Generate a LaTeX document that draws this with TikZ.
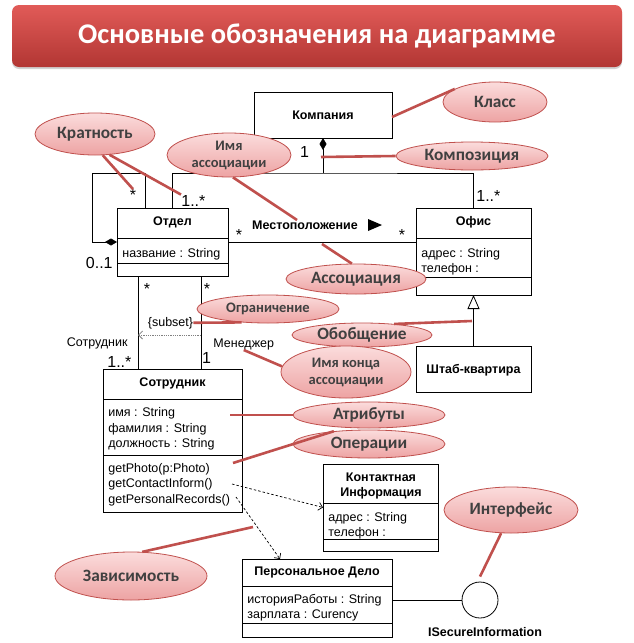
\documentclass[tikz,border=0pt]{standalone}
\usepackage{fontspec}
\setmainfont{Liberation Sans}
\newfontfamily\calib{Carlito}
\usetikzlibrary{arrows.meta,positioning,shapes.geometric,shadows}
\definecolor{calloutred}{HTML}{C0504D}
\definecolor{calloutlight}{HTML}{FBDCDC}
\definecolor{calloutdark}{HTML}{EDA3A3}
\definecolor{callouttext}{HTML}{404040}
\definecolor{bannertop}{HTML}{E15B58}
\definecolor{bannerbot}{HTML}{B23633}

\begin{document}
\begin{tikzpicture}[x=1pt, y=-1pt, line width=0.8pt,
	banner/.style={rounded corners=7pt, inner sep=0pt, top color=bannertop, bottom color=bannerbot, text=white, font=\calib\bfseries\fontsize{28.5}{34}\selectfont, drop shadow={shadow xshift=0pt, shadow yshift=-2pt, opacity=0.35}},
	classbox/.style={draw, inner sep=0pt, outer sep=0pt},
	cname/.style={font=\fontsize{12.5}{15}\selectfont\bfseries, anchor=base, inner sep=0pt},
	attr/.style={font=\fontsize{12.5}{15}\selectfont, anchor=base west, inner sep=0pt},
	mult/.style={font=\fontsize{16}{19}\selectfont, anchor=base, inner sep=0pt},
	callout/.style={ellipse, draw=calloutred, top color=calloutlight, bottom color=calloutdark, inner sep=0pt, align=center, text=callouttext, font=\calib\bfseries\fontsize{17.3}{20}\selectfont},
	calloutsmall/.style={font=\calib\bfseries\fontsize{14.5}{17}\selectfont},
	pointer/.style={draw=calloutred, line width=2.6pt},
	composition/.style={{Diamond[length=12pt,width=7pt]}-},
	dependency/.style={dash pattern=on 2.5pt off 2pt, line width=0.7pt, -{Straight Barb[length=4pt,width=8pt]}},
	constraint/.style={densely dotted, gray, -{Straight Barb[length=4pt,width=8pt]}}]
	\useasboundingbox (0,0) rectangle (634,643);
	\fill[white] (0,0) rectangle (634,643);

	\node[banner, minimum width=610pt, minimum height=62pt] (title) at (317,36) {Основные обозначения на диаграмме};

	\node[classbox, minimum width=138pt, minimum height=46pt] (kompaniya) at (323,115) {};
	\node[classbox, minimum width=111pt, minimum height=68pt] (otdel) at (172.5,242) {};
	\node[classbox, minimum width=115pt, minimum height=87pt] (ofis) at (473.5,251.5) {};
	\node[classbox, minimum width=115pt, minimum height=46pt] (shtab) at (473.5,369) {};
	\node[classbox, minimum width=139pt, minimum height=143pt] (sotrudnik) at (172.5,440.5) {};
	\node[classbox, minimum width=115pt, minimum height=87pt] (kontakt) at (380.5,507.5) {};
	\node[classbox, minimum width=150pt, minimum height=78pt] (delo) at (317,598) {};
	\node[circle, draw, minimum size=36pt, inner sep=0pt] (iface) at (480,600) {};

	\draw ([yshift=-30pt]otdel.north west) -- ([yshift=-30pt]otdel.north east);
	\draw ([yshift=-55pt]otdel.north west) -- ([yshift=-55pt]otdel.north east);
	\draw ([yshift=-30pt]ofis.north west) -- ([yshift=-30pt]ofis.north east);
	\draw ([yshift=-69pt]ofis.north west) -- ([yshift=-69pt]ofis.north east);
	\draw ([yshift=-30pt]sotrudnik.north west) -- ([yshift=-30pt]sotrudnik.north east);
	\draw ([yshift=-86pt]sotrudnik.north west) -- ([yshift=-86pt]sotrudnik.north east);
	\draw ([yshift=-39pt]kontakt.north west) -- ([yshift=-39pt]kontakt.north east);
	\draw ([yshift=-75pt]kontakt.north west) -- ([yshift=-75pt]kontakt.north east);
	\draw ([yshift=-27pt]delo.north west) -- ([yshift=-27pt]delo.north east);
	\draw ([yshift=-64pt]delo.north west) -- ([yshift=-64pt]delo.north east);

	\node[cname] (kompaniya-n) at (323,119) {Компания};
	\node[cname] (otdel-n) at (172.5,225) {Отдел};
	\node[attr] (otdel-a1) at (122,257) {название : String};
	\node[cname] (ofis-n) at (473.5,225) {Офис};
	\node[attr] (ofis-a1) at (421,257) {адрес : String};
	\node[attr] (ofis-a2) at (421,272) {телефон :};
	\node[cname] (shtab-n) at (473.5,373) {Штаб-квартира};
	\node[cname] (sotrudnik-n) at (172.5,386) {Сотрудник};
	\node[attr] (sotrudnik-a1) at (108,416.5) {имя : String};
	\node[attr] (sotrudnik-a2) at (108,432) {фамилия : String};
	\node[attr] (sotrudnik-a3) at (108,447.5) {должность : String};
	\node[attr] (sotrudnik-o1) at (108,472) {getPhoto(p:Photo)};
	\node[attr] (sotrudnik-o2) at (108,487.5) {getContactInform()};
	\node[attr] (sotrudnik-o3) at (108,503) {getPersonalRecords()};
	\node[cname] (kontakt-n1) at (381,481) {Контактная};
	\node[cname] (kontakt-n2) at (381,496) {Информация};
	\node[attr] (kontakt-a1) at (328,521) {адрес : String};
	\node[attr] (kontakt-a2) at (328,536) {телефон :};
	\node[cname] (delo-n) at (317,575) {Персональное Дело};
	\node[attr] (delo-a1) at (247,603) {историяРаботы : String};
	\node[attr] (delo-a2) at (247,618) {зарплата : Curency};
	\node[cname] (iface-n) at (485,636) {ISecureInformation};

	\coordinate (bus) at (323,173);
	\coordinate (loopa) at (92,173);
	\draw[composition] (kompaniya.south) -- (bus);
	\draw (otdel.north) |- (bus) -| (ofis.north);
	\draw[composition] (otdel.west) -| (loopa) -| ([xshift=28pt]otdel.north west);
	\draw (otdel.east) -- (otdel.east -| ofis.west);
	\draw[-{Triangle[open,length=14pt,width=12pt]}] (shtab.north) -- (ofis.south);
	\draw ([xshift=21pt]otdel.south west) -- ([xshift=35pt]sotrudnik.north west);
	\draw ([xshift=-27pt]otdel.south east) -- ([xshift=-41pt]sotrudnik.north east);
	\coordinate (subr) at (201,335);
	\coordinate (subl) at (138,335);
	\draw[constraint] (subr) -- (subl);
	\coordinate (opcontact) at (232,484);
	\coordinate (oprecords) at (236,497);
	\draw[dependency] (opcontact) -- (kontakt.west);
	\draw[dependency] (oprecords) -- ([xshift=38pt]delo.north west);
	\draw (iface.west -| delo.east) -- (iface.west);

	\node[cname] (mestopol) at (305,229) {Местоположение};
	\fill (368,219) -- (382,225) -- (368,231) -- cycle;
	\node[mult] (komp-m) at (304.5,157) {1};
	\node[mult, anchor=base west] (multl) at (181,206) {1..*};
	\node[mult, anchor=base west] (multr) at (476,201) {1..*};
	\node[mult] (loopstar) at (133,200.5) {*};
	\node[mult, anchor=base east] (loopzero) at (113,268) {0..1};
	\node[mult] (assocl) at (239,240.5) {*};
	\node[mult] (assocr) at (402,240.5) {*};
	\node[mult] (otdstarl) at (147,294) {*};
	\node[mult] (otdstarr) at (207,294) {*};
	\node[mult, anchor=base west] (sotrm) at (107,367) {1..*};
	\node[mult] (manm) at (206.5,363) {1};
	\node[attr, anchor=base east] (sotr-role) at (128,346) {Сотрудник};
	\node[attr] (menedzher) at (213,347) {Менеджер};
	\node[attr, anchor=base] (subset) at (170.5,326) {\{subset\}};

	\node[callout, minimum width=104pt, minimum height=40pt] (klass) at (495,102) {Класс};
	\node[callout, minimum width=152pt, minimum height=28pt] (kompoz) at (472,156) {Композиция};
	\node[callout, minimum width=120pt, minimum height=42pt] (kratn) at (95,134) {Кратность};
	\node[callout, calloutsmall, minimum width=124pt, minimum height=44pt] (imyaassoc) at (229,155) {Имя\\ассоциации};
	\node[callout, minimum width=140pt, minimum height=30pt] (assoc) at (356,279) {Ассоциация};
	\node[callout, calloutsmall, minimum width=142pt, minimum height=28pt] (ogran) at (268,309) {Ограничение};
	\node[callout, minimum width=140pt, minimum height=24pt] (obobsh) at (362,335) {Обобщение};
	\node[callout, calloutsmall, minimum width=130pt, minimum height=52pt] (imyakonca) at (346,372) {Имя конца\\ассоциации};
	\node[callout, minimum width=152pt, minimum height=26pt] (atrib) at (369,415) {Атрибуты};
	\node[callout, minimum width=152pt, minimum height=28pt] (oper) at (369,444) {Операции};
	\node[callout, minimum width=134pt, minimum height=46pt] (interf) at (511,510) {Интерфейс};
	\node[callout, minimum width=152pt, minimum height=48pt] (zavis) at (131,576) {Зависимость};

	\coordinate (kompozpt) at (321,157);
	\coordinate (assocpt) at (322,244);
	\coordinate (obobshpt) at (472,321);
	\coordinate (atribpt) at (230,415);
	\coordinate (operpt) at (233,463);
	\coordinate (zavispt) at (253,527);
	\draw[pointer] (klass.162) -- ([yshift=-2pt]kompaniya.east);
	\draw[pointer] (kompoz.west) -- (kompozpt);
	\draw[pointer] (kratn.-70) -- (loopstar.north);
	\draw[pointer] (kratn.-55) -- (multl.north west);
	\draw[pointer] (imyaassoc.-80) -- ([xshift=-8pt]mestopol.north);
	\draw[pointer] (assoc.105) -- (assocpt);
	\draw[pointer] (ogran.207) -- (subset.east);
	\draw[pointer] (obobsh.19) -- (obobshpt);
	\draw[pointer] (imyakonca.175) -- (menedzher.south);
	\draw[pointer] (atrib.west) -- (atribpt);
	\draw[pointer] (oper.160) -- (operpt);
	\draw[pointer] (interf.247) -- ([yshift=5pt]iface.north);
	\draw[pointer] (zavis.65) -- (zavispt);
\end{tikzpicture}
\end{document}
